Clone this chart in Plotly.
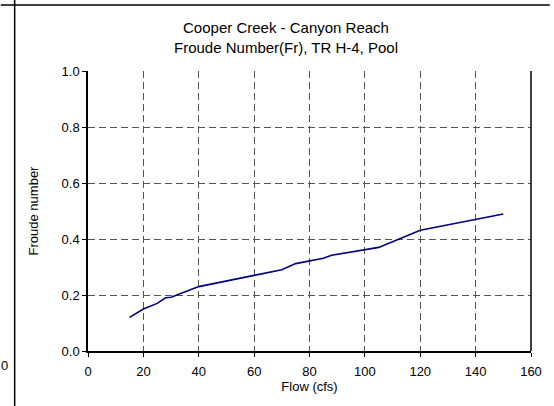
import plotly.graph_objects as go

flow = [15, 20, 25, 28, 30, 40, 60, 70, 75, 80, 85, 88, 100, 105, 120, 150]
froude = [0.12, 0.15, 0.17, 0.19, 0.192, 0.23, 0.27, 0.29, 0.312, 0.321, 0.331, 0.342, 0.361, 0.37, 0.431, 0.489]

x_ticks = [0, 20, 40, 60, 80, 100, 120, 140, 160]
y_ticks = [0.0, 0.2, 0.4, 0.6, 0.8, 1.0]
y_tick_text = ["0.0", "0.2", "0.4", "0.6", "0.8", "1.0"]

FONT = "Liberation Sans, Arial, sans-serif"

fig = go.Figure()
fig.add_trace(go.Scatter(x=flow, y=froude, mode="lines",
                         line=dict(color="#000080", width=1.6),
                         showlegend=False, hoverinfo="skip"))

W, H = 554, 406
L, R, T, B = 88, 19, 71, 55
pw, ph = W - L - R, H - T - B

def px_x(p):
    return (p - L) / pw

def px_y(p):
    return (H - B - p) / ph

fig.update_layout(
    width=W, height=H,
    margin=dict(l=L, r=R, t=T, b=B),
    paper_bgcolor="white", plot_bgcolor="white",
    font=dict(family=FONT, size=12, color="black"),
    title=dict(text="Cooper Creek - Canyon Reach<br>Froude Number(Fr), TR H-4, Pool",
               xref="container", yref="container",
               x=286 / W, xanchor="center", y=1 - 33 / H, yanchor="middle",
               font=dict(size=15, family=FONT, color="black")),
    xaxis=dict(range=[0, 160], tickvals=x_ticks, ticktext=[str(v) for v in x_ticks],
               showgrid=True, gridcolor="#555555", griddash="7px,4px", gridwidth=1,
               showline=True, linecolor="black", linewidth=1.5, mirror=False,
               ticks="outside", ticklen=4, tickcolor="black",
               tickfont=dict(size=13), zeroline=False, ticklabelstandoff=4,
               title=dict(text="Flow (cfs)", font=dict(size=13), standoff=0)),
    yaxis=dict(range=[0, 1.0], tickvals=y_ticks, ticktext=y_tick_text,
               showgrid=True, gridcolor="#555555", griddash="7px,4px", gridwidth=1,
               showline=True, linecolor="black", linewidth=1.5,
               ticks="outside", ticklen=4, tickcolor="black",
               tickfont=dict(size=13), zeroline=False,
               title=dict(text="Froude number", font=dict(size=13), standoff=20)),
)

# right frame line
fig.add_shape(type="line", xref="paper", yref="paper", x0=1, x1=1, y0=0, y1=1,
              line=dict(color="black", width=1.5))
# outer page border lines (cut-off context)
fig.add_shape(type="line", xref="paper", yref="paper",
              x0=px_x(0), x1=px_x(W), y0=px_y(5), y1=px_y(5),
              line=dict(color="black", width=1.5))
fig.add_shape(type="line", xref="paper", yref="paper",
              x0=px_x(14), x1=px_x(14), y0=px_y(0), y1=px_y(H),
              line=dict(color="black", width=1.5))
fig.add_annotation(text="0", xref="paper", yref="paper", x=px_x(-2), y=px_y(365),
                   xanchor="left", yanchor="middle", showarrow=False,
                   font=dict(size=13, family=FONT, color="black"))

fig.write_html("out.html")
